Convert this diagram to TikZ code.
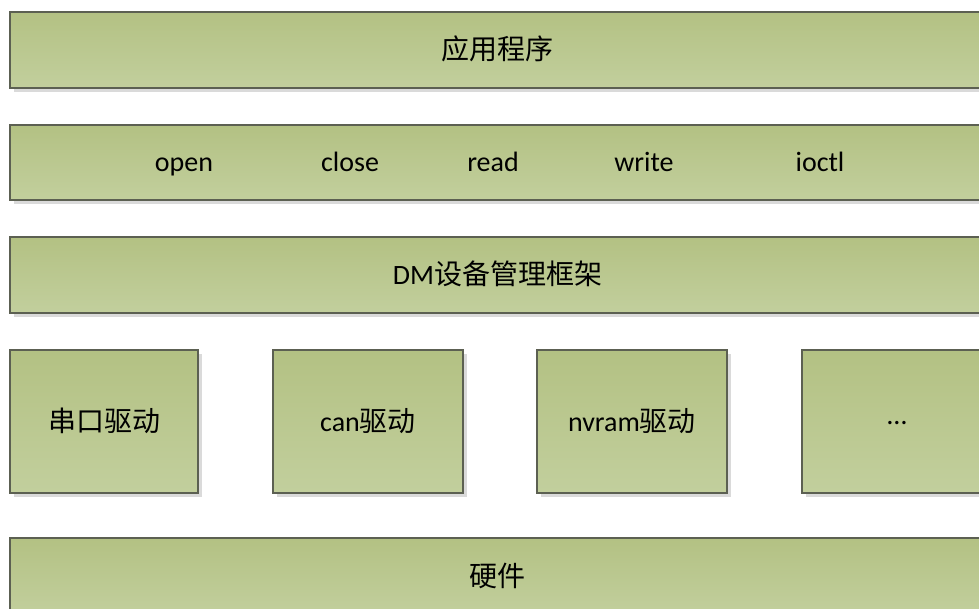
\documentclass[tikz,border=0pt]{standalone}
\usepackage{fontspec}
\setmainfont{Carlito}
\newfontfamily\cjk{Noto Sans CJK SC}
\usetikzlibrary{shadows}
\definecolor{boxtop}{RGB}{179,193,131}
\definecolor{boxbot}{RGB}{194,207,157}
\definecolor{boxline}{RGB}{92,96,82}
\definecolor{shadowc}{RGB}{218,218,218}
\tikzset{
  layer/.style={draw=boxline, line width=1.2pt, top color=boxtop, bottom color=boxbot,
    drop shadow={shadow xshift=4pt, shadow yshift=-4pt, fill=shadowc, opacity=1},
    inner sep=0pt, text height=24pt, text depth=4pt, font=\fontsize{28pt}{34pt}\selectfont},
  label/.style={inner sep=0pt, text height=24pt, text depth=4pt, font=\fontsize{28pt}{34pt}\selectfont}
}
\begin{document}
\begin{tikzpicture}[x=1pt,y=-1pt]
\useasboundingbox (0,0) rectangle (979,609);
\clip (0,0) rectangle (979,609);
\node[layer, minimum width=975pt, minimum height=76pt] (app) at (497.5,50) {\cjk 应用程序};
\node[layer, minimum width=975pt, minimum height=75pt] (api) at (497.5,162.5) {};
\node[label] (open) at (184,162) {open};
\node[label] (close) at (350,162) {close};
\node[label] (read) at (493,162) {read};
\node[label] (write) at (644,162) {write};
\node[label] (ioctl) at (820,162) {ioctl};
\node[layer, minimum width=975pt, minimum height=76pt] (dm) at (497.5,275) {DM{\cjk 设备管理框架}};
\node[layer, minimum width=188pt, minimum height=143pt] (d1) at (104,421.5) {\cjk 串口驱动};
\node[layer, minimum width=190pt, minimum height=143pt] (d2) at (368,421.5) {can{\cjk 驱动}};
\node[layer, minimum width=190pt, minimum height=143pt] (d3) at (632,421.5) {nvram{\cjk 驱动}};
\node[layer, minimum width=190pt, minimum height=143pt] (d4) at (897,421.5) {\raisebox{7pt}{…}};
\node[layer, minimum width=975pt, minimum height=76pt] (hw) at (497.5,576) {\cjk 硬件};
\end{tikzpicture}
\end{document}
